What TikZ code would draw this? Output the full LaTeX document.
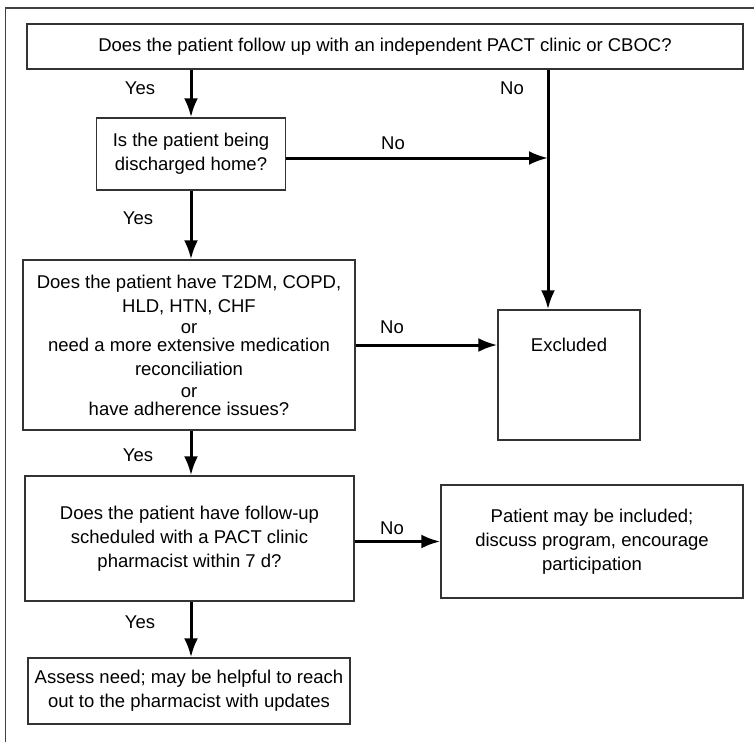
\documentclass[tikz,border=0pt]{standalone}
\usepackage{fontspec}
\setmainfont{Liberation Sans}
\usetikzlibrary{arrows.meta}
\tikzset{>={Latex[length=19pt,width=14pt]}}
\tikzset{
  qbox/.style={draw=black!80, line width=1.4pt, align=center, inner sep=0pt,
    font=\fontsize{18.5}{24}\selectfont},
  flow/.style={->, line width=3pt},
  answer/.style={font=\fontsize{18.5}{22}\selectfont}
}

\begin{document}
\begin{tikzpicture}[x=1pt, y=-1pt]
    \useasboundingbox (0,0) rectangle (756,742);
    \draw[black!75, line width=1.4pt](5.5,742)--(5.5,8)--(754,8);
    % questions
    \node[qbox, minimum width=716pt, minimum height=45pt](q1) at (385,46.5)
        {Does the patient follow up with an independent PACT clinic or CBOC?};
    \node[qbox, minimum width=189pt, minimum height=72pt](q2) at (191,154)
        {Is the patient being\\discharged home?};
    \node[qbox, minimum width=332pt, minimum height=170pt, font=\fontsize{18.5}{22}\selectfont](q3) at (189,345)
        {Does the patient have T2DM, COPD,\\[2pt]HLD, HTN, CHF\\[-1pt]or\\[-4pt]need a more extensive medication\\[2pt]reconciliation\\or\\[-4pt]have adherence issues?};
    \node[qbox, minimum width=329pt, minimum height=125pt](q4) at (189.5,538.5)
        {Does the patient have follow-up\\scheduled with a PACT clinic\\pharmacist within 7 d?};
    % outcomes
    \node[qbox, minimum width=142pt, minimum height=130pt](excl) at (569,375){};
    \node[answer](excltext) at (excl.center |- q3.east){Excluded};
    \node[qbox, minimum width=302pt, minimum height=113pt](incl) at (592,541.5)
        {Patient may be included;\\discuss program, encourage\\participation};
    \node[qbox, minimum width=322pt, minimum height=66pt](assess) at (189,691)
        {Assess need; may be helpful to reach\\out to the pharmacist with updates};
    % connectors
    \coordinate (nojoin) at (548,158);
    \draw[flow](q2.north |- q1.south)--(q2.north);
    \draw[flow](q2.south)--(q2.south |- q3.north);
    \draw[flow](q3.south -| q2)--(q4.north -| q2);
    \draw[flow](q4.south -| q2)--(assess.north -| q2);
    \draw[line width=3pt](q1.south -| nojoin)--(nojoin);
    \draw[flow](nojoin)--(nojoin |- excl.north);
    \draw[flow](q2.east |- nojoin)--(nojoin);
    \draw[flow](q3.east)--(q3.east -| excl.west);
    \draw[flow](q4.east |- incl.west)--(incl.west);
    % answers
    \node[answer](y1) at (140,88){Yes};
    \node[answer](y2) at (138,218){Yes};
    \node[answer](y3) at (138,455){Yes};
    \node[answer](y4) at (140,622){Yes};
    \node[answer](n1) at (512,88){No};
    \node[answer](n2) at (393,143){No};
    \node[answer](n3) at (392,327){No};
    \node[answer](n4) at (392,528){No};
\end{tikzpicture}
\end{document}
